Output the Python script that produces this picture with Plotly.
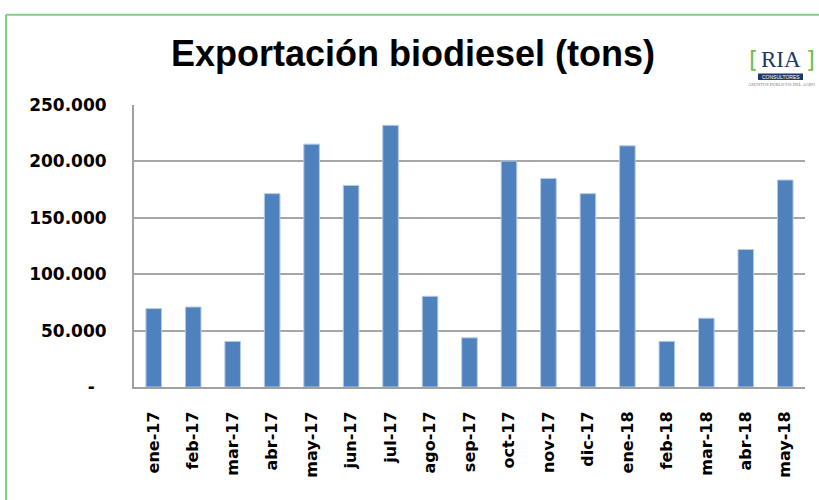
import plotly.graph_objects as go

categories = ["ene-17", "feb-17", "mar-17", "abr-17", "may-17", "jun-17", "jul-17", "ago-17",
              "sep-17", "oct-17", "nov-17", "dic-17", "ene-18", "feb-18", "mar-18", "abr-18", "may-18"]
values = [69500, 70900, 40400, 171400, 215300, 178700, 232000, 80400,
          43600, 200300, 184900, 171400, 213800, 40500, 61000, 121900, 183500]
tick_vals = [0, 50000, 100000, 150000, 200000, 250000]
tick_text = ["-\u00a0\u00a0", "50.000", "100.000", "150.000", "200.000", "250.000"]
title_text = "Exportación biodiesel (tons)"

W, H = 819, 500
L, R, T, B = 134, 14, 104.5, 113


def px(x):
    return (x - L) / (W - L - R)


def py(y):
    return (H - B - y) / (H - T - B)


fig = go.Figure(go.Bar(
    x=categories, y=values,
    marker=dict(color="#4f81bd", line=dict(color="#b4cbe6", width=1)),
))

green = "#7fcf87"
shapes = [
    dict(type="line", xref="paper", yref="paper", x0=px(6), x1=px(830), y0=py(14), y1=py(14),
         line=dict(color=green, width=2)),
    dict(type="line", xref="paper", yref="paper", x0=px(6), x1=px(6), y0=py(14), y1=py(510),
         line=dict(color=green, width=2)),
    dict(type="rect", xref="paper", yref="paper", x0=px(758), x1=px(803), y0=py(73), y1=py(79.5),
         fillcolor="#1f3868", line=dict(width=0)),
]

annotations = [
    dict(text="RIA", x=px(781), y=py(59), xref="paper", yref="paper", showarrow=False,
         font=dict(family="Liberation Serif", size=23, color="#1f3868"), xanchor="center", yanchor="middle"),
    dict(text="[", x=px(753), y=py(59), xref="paper", yref="paper", showarrow=False,
         font=dict(family="DejaVu Sans", size=23, color="#6cc04a"), xanchor="center", yanchor="middle"),
    dict(text="]", x=px(810), y=py(59), xref="paper", yref="paper", showarrow=False,
         font=dict(family="DejaVu Sans", size=23, color="#6cc04a"), xanchor="center", yanchor="middle"),
    dict(text="CONSULTORES", x=px(780.5), y=py(76.3), xref="paper", yref="paper", showarrow=False,
         font=dict(family="Liberation Sans", size=5, color="white"), xanchor="center", yanchor="middle"),
    dict(text="ASUNTOS PÚBLICOS DEL AGRO", x=px(782), y=py(84), xref="paper", yref="paper", showarrow=False,
         font=dict(family="Liberation Serif", size=4.5, color="#777777"), xanchor="center", yanchor="middle"),
]

fig.update_layout(
    width=W, height=H,
    margin=dict(l=L, r=R, t=T, b=B, autoexpand=False),
    paper_bgcolor="white", plot_bgcolor="white",
    showlegend=False,
    bargap=0.605,
    title=dict(text=title_text, x=413 / W, xanchor="center", y=(H - 53) / H, yanchor="middle",
               font=dict(family="Liberation Sans", size=36, color="black", weight="bold")),
    shapes=shapes,
    annotations=annotations,
)

fig.update_xaxes(
    showline=True, linecolor="#a0a0a0", linewidth=2,
    showgrid=False, tickangle=-90, ticks="",
    tickfont=dict(family="DejaVu Sans", size=16, color="black", weight="bold"),
    ticklabelstandoff=16,
)
fig.update_yaxes(
    range=[0, 250000], tickvals=tick_vals, ticktext=tick_text,
    showline=True, linecolor="#a0a0a0", linewidth=2,
    showgrid=True, gridcolor="#a6a6a6", gridwidth=1.5,
    zeroline=False, ticks="",
    tickfont=dict(family="DejaVu Sans", size=17, color="black", weight="bold"),
    ticklabelstandoff=22,
)

fig.write_html("out.html", config={"displayModeBar": False},
               post_script="document.body.style.margin='0px';")
